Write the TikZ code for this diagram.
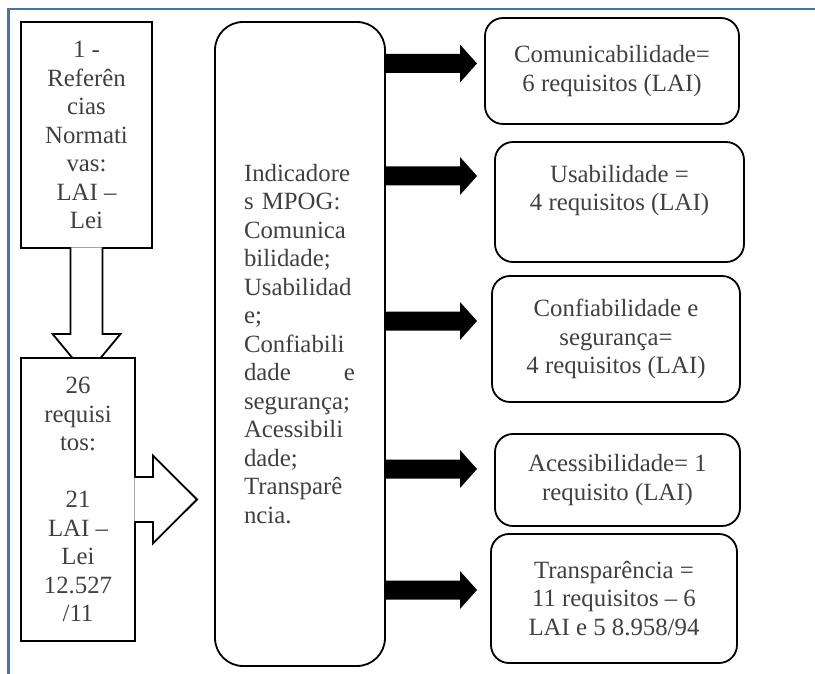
\documentclass[tikz,border=0pt]{standalone}
\usepackage{fontspec}
\setmainfont{Liberation Serif}
\usetikzlibrary{calc}
\definecolor{txt}{HTML}{404040}
\definecolor{framecol}{HTML}{4A70AE}
\newcommand\blackarrow[1]{%
  \fill[black] ($(big.east |- #1)+(-1,-9.5)$) -- ($(#1)+(-17,-9.5)$) -- ($(#1)+(-17,-19)$) -- (#1)
    -- ($(#1)+(-17,19)$) -- ($(#1)+(-17,9.5)$) -- ($(big.east |- #1)+(-1,9.5)$) -- cycle;}
\begin{document}
\begin{tikzpicture}[x=1pt,y=-1pt,
  every node/.style={font=\fontsize{24.8}{28.5}\selectfont, text=txt},
  sq/.style={draw=black, line width=1.8pt, fill=white, align=center, inner sep=0pt},
  rbox/.style={draw=black, line width=1.8pt, fill=white, rounded corners=18pt, align=center, inner sep=0pt},
  warrow/.style={draw=black, line width=1.8pt, fill=white}]
\useasboundingbox (0,0) rectangle (815,674);
\fill[white] (0,0) rectangle (815,674);
% frame
\draw[framecol, line width=2.5pt] (815,9) -- (8.5,9) -- (8.5,674);

% left column
\node[sq, minimum width=131pt, minimum height=226pt] (b1) at (86.5,135)
  {1 -\\Referên\\cias\\Normati\\vas:\\LAI –\\Lei};
\coordinate (d1) at (86.5,375);
\filldraw[warrow] ($(b1.south)+(-16,-1.5)$) -- ($(b1.south)+(-16,85)$) -- ($(b1.south)+(-34,85)$) -- (d1)
  -- ($(b1.south)+(34,85)$) -- ($(b1.south)+(16,85)$) -- ($(b1.south)+(16,-1.5)$);
\node[sq, minimum width=114pt, minimum height=283pt] (b2) at (78,499.5)
  {26\\requisi\\tos:\\\mbox{}\\21\\LAI –\\Lei\\12.527\\/11};
\coordinate (r1) at (197,499.5);
\filldraw[warrow] ($(b2.east)+(-1.5,-22.5)$) -- ($(b2.east)+(17,-22.5)$) -- ($(b2.east)+(17,-44)$) -- (r1)
  -- ($(b2.east)+(17,44)$) -- ($(b2.east)+(17,22.5)$) -- ($(b2.east)+(-1.5,22.5)$);

% central box
\node[rbox, rounded corners=28pt, minimum width=170pt, minimum height=644pt,
      text width=112pt, align=left] (big) at (300,344)
  {Indicadore\\s MPOG:\\Comunica\\bilidade;\\Usabilidad\\e;\\Confiabili\\\makebox[111pt][l]{dade\hfill e}\\segurança;\\Acessibili\\dade;\\Transparê\\ncia.};

% right boxes
\node[rbox, minimum width=254pt, minimum height=106pt] (c1) at (612,71)
  {Comunicabilidade=\\6 requisitos (LAI)};
\node[rbox, minimum width=249pt, minimum height=120pt] (c2) at (619.5,202)
  {Usabilidade =\\4 requisitos (LAI)\\\mbox{}};
\node[rbox, minimum width=248pt, minimum height=126pt] (c3) at (616,339)
  {Confiabilidade e\\segurança=\\4 requisitos (LAI)};
\node[rbox, minimum width=245pt, minimum height=92pt] (c4) at (617.5,480)
  {Acessibilidade= 1\\requisito (LAI)};
\node[rbox, minimum width=246pt, minimum height=129pt] (c5) at (614,598.5)
  {Transparência =\\11 requisitos – 6\\LAI e 5 8.958/94};

% black arrows
\coordinate (t1) at (477,63.5);
\coordinate (t2) at (477,176);
\coordinate (t3) at (477,321);
\coordinate (t4) at (477,469);
\coordinate (t5) at (477,590);
\blackarrow{t1}
\blackarrow{t2}
\blackarrow{t3}
\blackarrow{t4}
\blackarrow{t5}
\end{tikzpicture}
\end{document}
